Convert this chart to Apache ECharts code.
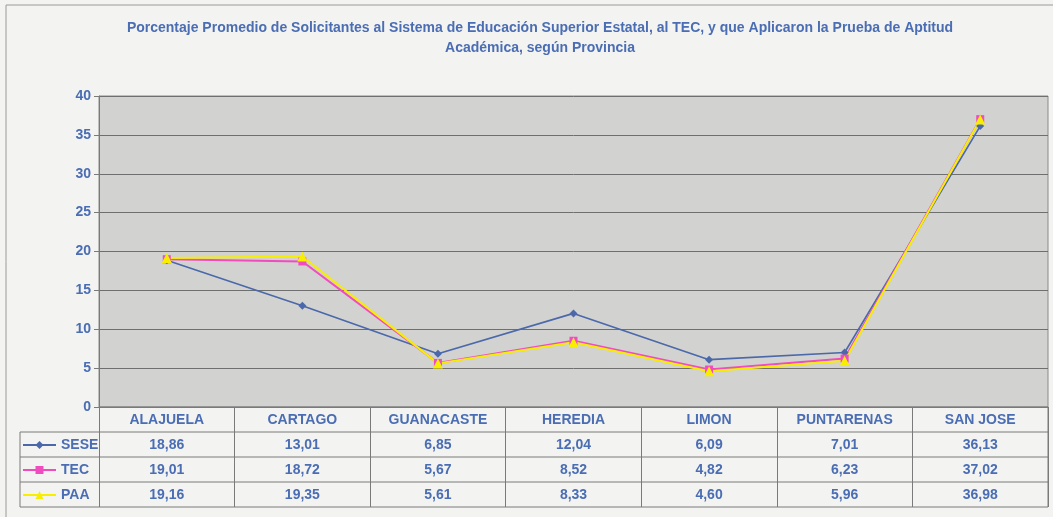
<!DOCTYPE html>
<html>
<head>
<meta charset="utf-8">
<script src="https://cdn.jsdelivr.net/npm/echarts@6/dist/echarts.min.js"></script>
<style>
  html, body { margin: 0; padding: 0; background: #f3f3f1; }
  #chart { width: 1053px; height: 517px; }
</style>
</head>
<body>
<div id="chart"></div>
<script>
const provincias = ['ALAJUELA', 'CARTAGO', 'GUANACASTE', 'HEREDIA', 'LIMON', 'PUNTARENAS', 'SAN JOSE']
const sese = [18.86, 13.01, 6.85, 12.04, 6.09, 7.01, 36.13]
const tec = [19.01, 18.72, 5.67, 8.52, 4.82, 6.23, 37.02]
const paa = [19.16, 19.35, 5.61, 8.33, 4.60, 5.96, 36.98]
const yTicks = [0, 5, 10, 15, 20, 25, 30, 35, 40]

const blueText = '#4a6db3'
const gridLine = '#6f6f6f'
const fmt = (v) => v.toFixed(2).replace('.', ',')

const rows = [
  { name: 'SESE', data: sese, color: '#4a68aa', symbol: 'diamond', width: 1.6 },
  { name: 'TEC', data: tec, color: '#f04cc0', symbol: 'rect', width: 2 },
  { name: 'PAA', data: paa, color: '#f7ee00', symbol: 'triangle', width: 2 }
]

// table geometry (layout only)
const gridLeft = 99, gridRight = 5, gridBottom = 110, rowH = 25
const tableTop = 517 - gridBottom
const tableLeft = 20, tableRight = 1053 - gridRight

const chart = echarts.init(document.getElementById('chart'))

const valueAxes = rows.map((r, i) => ({
  type: 'category',
  position: 'bottom',
  offset: rowH * (i + 1),
  data: provincias,
  axisLine: { show: false },
  axisTick: { show: false },
  axisLabel: {
    interval: 0,
    margin: 6,
    color: blueText,
    fontWeight: 'bold',
    fontSize: 14,
    fontFamily: 'Liberation Sans',
    formatter: (v, idx) => fmt(r.data[idx])
  }
}))

const tableLines = []
for (let i = 0; i <= 4; i++) {
  const y = tableTop + rowH * i
  tableLines.push({
    type: 'line',
    shape: { x1: i === 0 ? gridLeft : tableLeft, y1: y, x2: tableRight, y2: y },
    style: { stroke: '#7a7a7a', lineWidth: 1 }
  })
}
tableLines.push({
  type: 'line',
  shape: { x1: tableLeft, y1: tableTop + rowH, x2: tableLeft, y2: tableTop + rowH * 4 },
  style: { stroke: '#7a7a7a', lineWidth: 1 }
})
tableLines.push({
  type: 'line',
  shape: { x1: tableRight, y1: tableTop, x2: tableRight, y2: tableTop + rowH * 4 },
  style: { stroke: '#7a7a7a', lineWidth: 1 }
})
tableLines.push({
  type: 'rect',
  shape: { x: 6, y: 5, width: 1060, height: 520 },
  style: { fill: 'none', stroke: '#9a9a9a', lineWidth: 1 }
})

chart.setOption({
  backgroundColor: '#f3f3f1',
  animation: false,
  textStyle: { fontFamily: 'Liberation Sans' },
  title: {
    text: 'Porcentaje Promedio de Solicitantes al Sistema de Educación Superior Estatal, al TEC, y que Aplicaron la Prueba de Aptitud\nAcadémica, según Provincia',
    left: 535,
    top: 13,
    textAlign: 'center',
    textStyle: { color: blueText, fontSize: 14, fontWeight: 'bold', lineHeight: 20, fontFamily: 'Liberation Sans' }
  },
  legend: {
    orient: 'vertical',
    left: 22,
    top: tableTop + rowH + 5,
    padding: 0,
    itemGap: 9,
    itemWidth: 33,
    itemHeight: 10,
    textStyle: { color: blueText, fontWeight: 'bold', fontSize: 14, lineHeight: 16 },
    data: rows.map((r) => r.name)
  },
  grid: {
    left: gridLeft, right: gridRight, top: 96, bottom: gridBottom,
    show: true, backgroundColor: '#d2d2d0', borderColor: '#8a8a8a', borderWidth: 1
  },
  xAxis: [{
    type: 'category',
    data: provincias,
    boundaryGap: true,
    axisLine: { lineStyle: { color: '#7a7a7a' } },
    axisTick: { show: true, interval: 0, length: rowH * 4, lineStyle: { color: '#7a7a7a' } },
    axisLabel: { interval: 0, margin: 6, color: blueText, fontWeight: 'bold', fontSize: 14 }
  }, ...valueAxes],
  yAxis: {
    type: 'value',
    min: yTicks[0],
    max: yTicks[yTicks.length - 1],
    interval: 5,
    axisLine: { show: true, lineStyle: { color: '#7a7a7a' } },
    axisTick: { show: true, length: 5, lineStyle: { color: '#7a7a7a' } },
    axisLabel: { color: blueText, fontWeight: 'bold', fontSize: 14, margin: 8 },
    splitLine: { lineStyle: { color: gridLine, width: 1 } }
  },
  graphic: tableLines,
  series: rows.map((r) => ({
    name: r.name,
    type: 'line',
    data: r.data,
    symbol: r.symbol,
    symbolSize: r.symbol === 'triangle' ? 10 : 8,
    itemStyle: { color: r.color },
    lineStyle: { color: r.color, width: r.width }
  }))
})
</script>
</body>
</html>
